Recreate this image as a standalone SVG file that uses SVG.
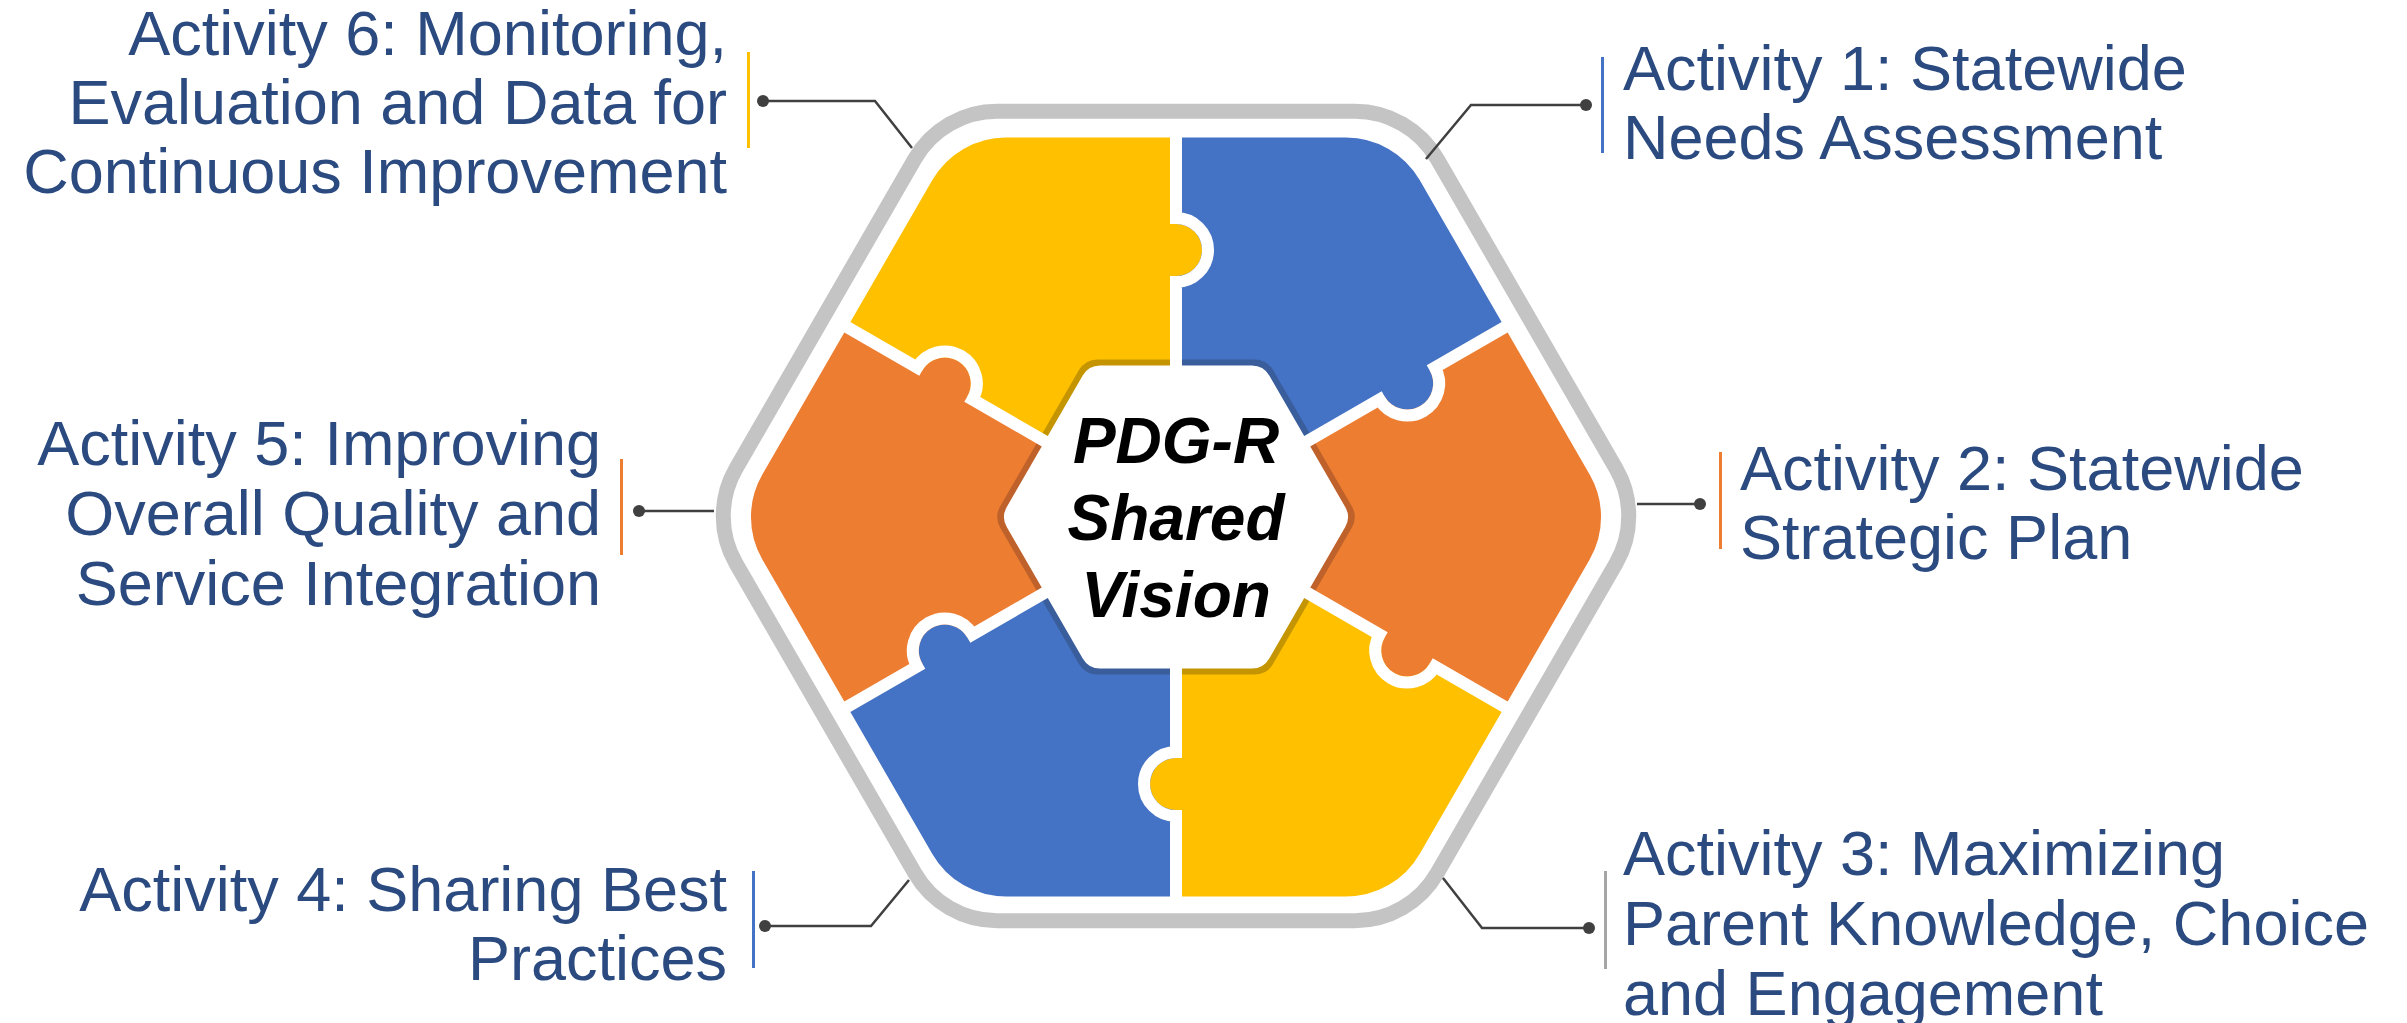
<svg xmlns="http://www.w3.org/2000/svg" xmlns:xlink="http://www.w3.org/1999/xlink" width="2407" height="1023" viewBox="0 0 2407 1023">
<defs>
<style>
.lbl{font-family:"Liberation Sans",Arial,sans-serif;font-size:63px;fill:#2A4A80}
.end{text-anchor:end}
.ctr{font-family:"Liberation Sans",Arial,sans-serif;font-size:64px;font-weight:bold;font-style:italic;fill:#000;text-anchor:middle}
.conn{fill:none;stroke:#404040;stroke-width:2.5}
.dot{fill:#404040}
.div{fill:none;stroke:#fff;stroke-width:12}
.yel{fill:#FFC000}.blu{fill:#4472C4}.ora{fill:#ED7D31}
.dyel{fill:#C49500}.dblu{fill:#3A5D9C}.dora{fill:#BF612A}
</style>
<polygon id="w1" points="1176,517 1176,-483 1776,-522 2042,17"/>
<polygon id="w2" points="1176,517 2042,17 2376,517 2042,1017"/>
<polygon id="w3" points="1176,517 2042,1017 1776,1556 1176,1517"/>
<polygon id="w4" points="1176,517 1176,1517 576,1556 310,1017"/>
<polygon id="w5" points="1176,517 310,1017 -24,517 310,17"/>
<polygon id="w6" points="1176,517 310,17 576,-522 1176,-483"/>
<clipPath id="pc"><path d="M1589.65,474.5 A85,85 0 0 1 1589.65,559.5 L1419.65,854 A85,85 0 0 1 1346,896.5 L1006,896.5 A85,85 0 0 1 932.35,854 L762.35,559.5 A85,85 0 0 1 762.35,474.5 L932.35,180 A85,85 0 0 1 1006,137.5 L1346,137.5 A85,85 0 0 1 1419.65,180 Z"/></clipPath>
<clipPath id="dc"><path d="M1351.65,506 A22,22 0 0 1 1351.65,528 L1273.35,663.6 A22,22 0 0 1 1254.3,674.6 L1097.7,674.6 A22,22 0 0 1 1078.65,663.6 L1000.35,528 A22,22 0 0 1 1000.35,506 L1078.65,370.4 A22,22 0 0 1 1097.7,359.4 L1254.3,359.4 A22,22 0 0 1 1273.35,370.4 Z"/></clipPath>
</defs>
<rect width="2407" height="1023" fill="#fff"/>
<g id="ring">
<path d="M1616,468.5 A95,95 0 0 1 1616,563.5 L1437.1,873.25 A95,95 0 0 1 1354.85,920.75 L997.15,920.75 A95,95 0 0 1 914.9,873.25 L736,563.5 A95,95 0 0 1 736,468.5 L914.9,158.75 A95,95 0 0 1 997.15,111.25 L1354.85,111.25 A95,95 0 0 1 1437.1,158.75 Z" fill="none" stroke="#C5C4C5" stroke-width="15"/>
</g>
<g id="pieces" clip-path="url(#pc)">
<g id="piece-1"><use xlink:href="#w1" class="blu"/></g>
<g id="piece-2"><use xlink:href="#w2" class="ora"/></g>
<g id="piece-3"><use xlink:href="#w3" class="yel"/></g>
<g id="piece-4"><use xlink:href="#w4" class="blu"/></g>
<g id="piece-5"><use xlink:href="#w5" class="ora"/></g>
<g id="piece-6"><use xlink:href="#w6" class="yel"/></g>
<g id="knobs">
<circle cx="1176" cy="250" r="26" class="yel"/>
<circle cx="1407.2" cy="383.5" r="26" class="blu"/>
<circle cx="1407.2" cy="650.5" r="26" class="ora"/>
<circle cx="1176" cy="784" r="26" class="yel"/>
<circle cx="944.8" cy="650.5" r="26" class="blu"/>
<circle cx="944.8" cy="383.5" r="26" class="ora"/>
</g>
</g>
<g id="bevel" clip-path="url(#dc)">
<use xlink:href="#w1" class="dblu"/>
<use xlink:href="#w2" class="dora"/>
<use xlink:href="#w3" class="dyel"/>
<use xlink:href="#w4" class="dblu"/>
<use xlink:href="#w5" class="dora"/>
<use xlink:href="#w6" class="dyel"/>
</g>
<g id="center">
<path d="M1345.23,507 A20,20 0 0 1 1345.23,527 L1269.27,658.55 A20,20 0 0 1 1251.95,668.55 L1100.05,668.55 A20,20 0 0 1 1082.73,658.55 L1006.77,527 A20,20 0 0 1 1006.77,507 L1082.73,375.45 A20,20 0 0 1 1100.05,365.45 L1251.95,365.45 A20,20 0 0 1 1269.27,375.45 Z" fill="#fff"/>
</g>
<g id="dividers">
<path class="div" d="M1176,367 L1176,282 A32,32 0 0 0 1208,250 A32,32 0 0 0 1176,218 L1176,125"/>
<path class="div" d="M1305.9,442 L1379.5,399.5 A32,32 0 0 0 1423.2,411.2 A32,32 0 0 0 1434.9,367.5 L1515.5,321"/>
<path class="div" d="M1305.9,592 L1379.5,634.5 A32,32 0 0 0 1391.2,678.2 A32,32 0 0 0 1434.9,666.5 L1515.5,713"/>
<path class="div" d="M1176,667 L1176,752 A32,32 0 0 0 1144,784 A32,32 0 0 0 1176,816 L1176,909"/>
<path class="div" d="M1046.1,592 L972.5,634.5 A32,32 0 0 0 928.8,622.8 A32,32 0 0 0 917.1,666.5 L836.5,713"/>
<path class="div" d="M1046.1,442 L972.5,399.5 A32,32 0 0 0 960.8,355.8 A32,32 0 0 0 917.1,367.5 L836.5,321"/>
</g>
<g id="center-label">
<text class="ctr"><tspan x="1176" y="463">PDG-R</tspan><tspan x="1176" y="540">Shared</tspan><tspan x="1176" y="617">Vision</tspan></text>
</g>
<g id="connectors">
<path class="conn" d="M763,101 H875 L912,148"/>
<path class="conn" d="M1586,105 H1471 L1426,159"/>
<path class="conn" d="M1637,504 H1700"/>
<path class="conn" d="M714,511 H639"/>
<path class="conn" d="M765,926 H871 L909,880"/>
<path class="conn" d="M1589,928 H1482 L1443,878"/>
<circle class="dot" cx="763" cy="101" r="6"/>
<circle class="dot" cx="1586" cy="105" r="6"/>
<circle class="dot" cx="1700" cy="504" r="6"/>
<circle class="dot" cx="639" cy="511" r="6"/>
<circle class="dot" cx="765" cy="926" r="6"/>
<circle class="dot" cx="1589" cy="928" r="6"/>
</g>
<g id="activity-1">
<rect x="1601" y="57" width="3" height="96" fill="#4472C4"/>
<text class="lbl"><tspan x="1623" y="90">Activity 1: Statewide</tspan><tspan x="1623" y="159">Needs Assessment</tspan></text>
</g>
<g id="activity-2">
<rect x="1719" y="452" width="3" height="97" fill="#ED7D31"/>
<text class="lbl"><tspan x="1740" y="490">Activity 2: Statewide</tspan><tspan x="1740" y="559">Strategic Plan</tspan></text>
</g>
<g id="activity-3">
<rect x="1604" y="871" width="3" height="98" fill="#A6A6A6"/>
<text class="lbl"><tspan x="1623" y="875">Activity 3: Maximizing</tspan><tspan x="1623" y="945">Parent Knowledge, Choice</tspan><tspan x="1623" y="1015">and Engagement</tspan></text>
</g>
<g id="activity-4">
<rect x="752" y="871" width="3" height="97" fill="#4472C4"/>
<text class="lbl end"><tspan x="727" y="911">Activity 4: Sharing Best</tspan><tspan x="727" y="980">Practices</tspan></text>
</g>
<g id="activity-5">
<rect x="620" y="459" width="3" height="96" fill="#ED7D31"/>
<text class="lbl end"><tspan x="601" y="465">Activity 5: Improving</tspan><tspan x="601" y="535">Overall Quality and</tspan><tspan x="601" y="605">Service Integration</tspan></text>
</g>
<g id="activity-6">
<rect x="747" y="52" width="3" height="96" fill="#FFC000"/>
<text class="lbl end"><tspan x="727" y="55">Activity 6: Monitoring,</tspan><tspan x="727" y="124">Evaluation and Data for</tspan><tspan x="727" y="193">Continuous Improvement</tspan></text>
</g>
</svg>
